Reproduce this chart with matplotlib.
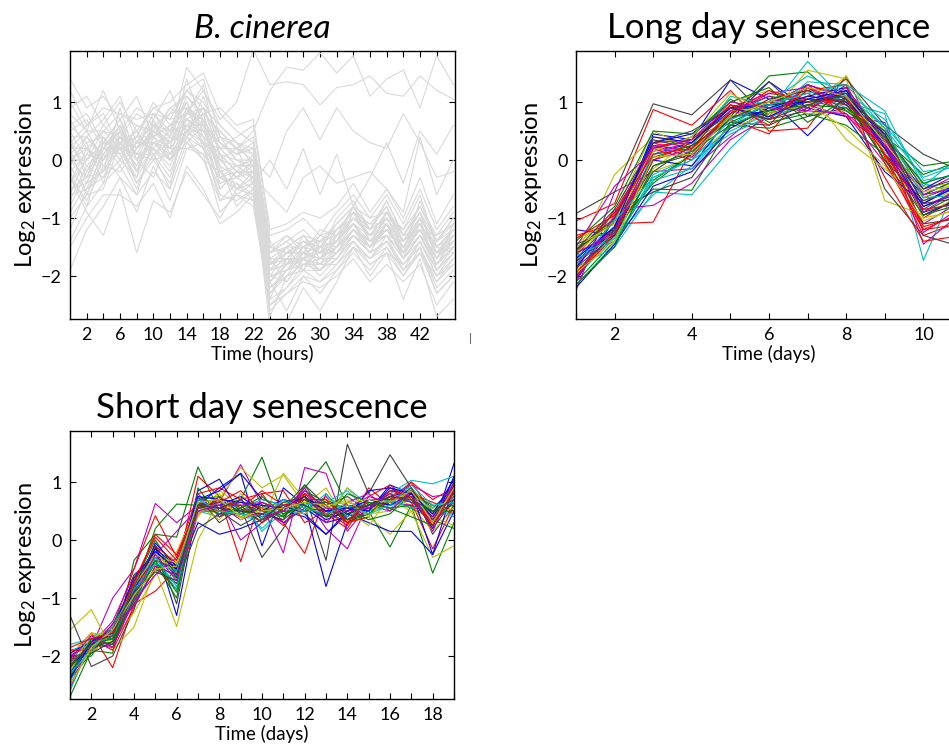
import matplotlib
matplotlib.use('Agg')
from matplotlib import pyplot as plt
from matplotlib.lines import Line2D

plt.rcParams['font.family'] = ['Lato', 'DejaVu Sans']
plt.rcParams['mathtext.fontset'] = 'custom'
plt.rcParams['mathtext.rm'] = 'Lato'
plt.rcParams['mathtext.it'] = 'Lato:italic'

# ---- data -------------------------------------------------------------
hours = [0, 2, 4, 6, 8, 10, 12, 14, 16, 18, 20, 22,
         24, 26, 28, 30, 32, 34, 36, 38, 40, 42, 44, 46]
hour_ticks = [2, 4, 6, 8, 10, 12, 14, 16, 18, 20, 22,
              24, 26, 28, 30, 32, 34, 36, 38, 40, 42, 44]
hour_labels = ['2', '', '6', '', '10', '', '14', '', '18', '', '22',
               '', '26', '', '30', '', '34', '', '38', '', '42', '']

cinerea = [
    [0.9, 1.1, 0.6, 1.0, 0.5, 0.9, 1.0, 1.3, 1.5, 0.8, 0.5, 0.3, -1.6, -1.4, -1.2, -1.5, -1.1, -0.8, -1.2, -0.7, -1.3, -0.9, -1.7, -1.2],
    [-0.5, -0.3, 0.2, 0.6, -0.2, 0.5, 0.3, 0.9, 0.7, -0.3, -0.4, -0.6, -2.2, -1.9, -1.7, -1.9, -1.6, -1.2, -1.5, -1.1, -1.7, -1.3, -1.9, -1.5],
    [0.2, -0.6, 0.0, 0.4, 0.1, 0.2, 0.5, 0.6, 0.3, 0.2, -0.1, 0.0, -1.8, -1.5, -1.9, -1.4, -1.5, -0.9, -1.4, -1.3, -1.4, -1.0, -1.5, -1.6],
    [-1.9, -1.2, -0.8, -0.3, -0.9, -0.1, -0.7, 0.2, 0.1, -0.9, -0.6, -0.8, -2.5, -2.2, -1.9, -2.1, -1.8, -1.4, -1.7, -1.3, -1.9, -1.6, -2.1, -1.8],
    [1.4, 0.9, 1.1, 0.7, 1.1, 0.4, 0.9, 1.1, 0.8, 0.5, 0.2, 0.4, -1.4, -1.8, -1.3, -1.7, -1.2, -0.9, -1.1, -0.8, -1.6, -0.7, -1.4, -1.0],
    [0.0, 0.3, -0.4, 0.5, 0.2, 0.7, 0.1, 0.5, 0.8, -0.1, -0.3, -0.1, -2.0, -1.6, -1.5, -1.8, -1.3, -1.1, -1.5, -0.9, -1.4, -1.2, -1.7, -1.1],
    [-0.8, -0.2, 0.4, 0.1, -0.5, 0.3, 0.0, 0.7, 0.4, 0.1, -0.5, -0.3, -2.7, -2.0, -1.6, -1.5, -1.4, -1.0, -1.3, -1.2, -1.6, -1.1, -1.8, -1.4],
    [0.5, 0.0, 0.3, -0.1, 0.3, 0.6, 0.5, 1.0, 0.2, 0.4, 0.0, -0.2, -1.7, -1.7, -1.4, -1.6, -1.0, -0.7, -1.2, -1.0, -1.2, -0.6, -1.5, -1.3],
    [-0.3, -0.7, -0.1, 0.3, 0.0, -0.3, 0.4, 0.3, 0.6, -0.5, -0.2, -0.4, -2.3, -1.9, -1.8, -1.7, -1.7, -1.3, -1.6, -1.4, -1.8, -1.4, -2.0, -1.7],
    [0.3, 0.6, 0.8, 0.2, 0.4, 1.0, 0.6, 0.4, 1.1, 0.3, 0.1, 0.2, -1.5, -1.3, -1.6, -1.2, -1.3, -0.8, -1.0, -0.9, -1.3, -1.2, -1.3, -0.9],
    [-1.2, -0.5, -0.3, 0.0, -0.3, 0.2, -0.2, 0.5, 0.5, -0.1, -0.8, -0.5, -2.1, -2.6, -2.0, -2.3, -1.9, -1.6, -1.9, -1.5, -2.0, -1.5, -2.3, -2.0],
    [0.7, 0.2, 0.5, 0.8, 0.6, 0.4, 0.8, 1.2, 0.9, 0.6, 0.3, 0.1, -1.9, -1.5, -1.3, -1.4, -1.2, -0.9, -1.2, -0.8, -1.4, -0.9, -1.6, -1.2],
    [0.1, -0.4, 0.3, 0.3, -0.1, 0.5, 0.3, 0.6, 0.5, 0.0, -0.1, -0.3, -1.9, -1.8, -1.5, -1.6, -1.5, -1.1, -1.4, -1.2, -1.5, -1.2, -1.7, -1.4],
    [-0.6, 0.1, 0.0, 0.6, 0.1, 0.1, -0.5, 0.9, 0.3, -0.4, -0.3, 0.0, -2.4, -1.7, -1.9, -1.5, -1.6, -1.2, -1.6, -1.1, -1.7, -1.0, -1.9, -1.6],
    [1.0, 0.5, 0.0, 0.4, 0.8, 0.6, 0.2, 1.4, 0.6, 0.2, 0.4, 0.6, -1.3, -1.2, -1.0, -1.3, -0.9, -0.6, -1.0, -0.6, -1.1, -0.5, -1.2, -0.8],
    [-0.2, -0.8, 0.1, -0.3, -0.6, 0.4, 0.2, 0.2, 0.3, -0.7, -0.4, -0.7, -2.0, -2.1, -1.7, -2.0, -1.7, -1.4, -1.8, -1.6, -1.8, -1.5, -2.2, -1.9],
    [0.4, 0.4, 0.7, 1.1, 0.3, 0.8, 0.7, 0.8, 1.2, 0.6, 0.3, -0.1, -1.6, -1.4, -1.7, -1.3, -1.4, -1.0, -1.3, -0.9, -1.2, -0.8, -1.3, -1.1],
    [-1.5, -1.0, -0.6, -0.6, -0.8, -0.4, -1.0, -0.1, -0.5, -1.1, -0.9, -0.6, -2.6, -2.3, -2.1, -2.2, -2.0, -1.7, -2.1, -1.8, -2.1, -1.8, -2.5, -2.1],
    [0.2, 0.2, -0.2, 0.9, 0.0, 0.3, 0.4, 1.0, 0.4, 0.1, -0.2, -0.2, -1.8, -1.6, -1.6, -1.7, -1.4, -0.8, -1.4, -1.0, -1.5, -1.1, -1.6, -1.4],
    [-0.4, 0.0, 0.5, 0.2, -0.3, 0.7, 0.0, 0.4, 0.0, -0.2, -0.6, -0.4, -2.1, -1.8, -1.6, -1.9, -1.5, -1.3, -1.5, -1.3, -1.7, -1.3, -1.8, -1.5],
    [0.6, 0.8, 0.3, 0.2, 0.5, 0.0, 0.6, 0.7, 0.9, 0.3, 0.1, 0.3, -1.5, -1.6, -1.4, -1.5, -1.2, -1.0, -1.1, -1.1, -1.4, -1.0, -1.4, -1.2],
    [-1.0, -0.6, -0.5, 0.3, -0.4, 0.0, -0.4, 0.4, 0.2, -0.6, -0.7, -0.5, -2.3, -2.0, -1.8, -1.8, -1.8, -1.5, -1.7, -1.5, -1.9, -1.6, -2.0, -1.8],
    [0.3, -0.2, 0.2, 0.5, 0.1, 0.6, 0.4, 1.6, 1.2, 0.7, 1.0, 1.9, 1.3, 1.35, 1.3, 0.95, 1.25, 1.3, 1.45, 1.15, 1.1, 1.45, 1.2, 1.05],
    [-0.1, 0.4, 0.0, 0.3, 0.4, 0.9, 0.7, 1.2, 1.4, 0.4, 0.2, 0.5, 1.2, 1.6, 1.55, 1.85, 1.5, 1.8, 1.1, 1.4, 1.55, 0.9, 1.8, 1.3],
    [0.0, -0.3, 0.4, 0.0, 0.3, 0.2, -0.1, 0.5, 0.9, 0.1, 0.0, 0.0, -0.3, 0.5, 0.9, 0.35, 0.9, 0.5, 0.3, 0.2, 0.8, 0.3, -0.3, -0.2],
    [-0.7, -0.1, -0.3, 0.4, -0.2, 0.4, 0.0, 0.3, 0.1, -0.3, -0.1, -0.3, -0.6, -0.9, -0.3, -0.1, -0.4, -0.3, -0.2, -0.5, -0.9, 0.4, -0.6, 0.0],
    [-0.3, -0.9, -1.3, -0.5, -1.6, -0.7, -0.9, -0.2, -0.6, -1.0, -0.5, -0.4, -2.9, -2.8, -2.2, -2.6, -2.1, -1.5, -2.0, -1.6, -2.4, -1.7, -2.7, -2.4],
    [0.8, 0.5, 1.2, 0.5, 0.9, 0.7, 1.2, 0.5, 0.8, 0.9, 0.6, 0.7, -1.2, -1.1, -0.9, -1.0, -0.8, -0.4, -0.9, -0.5, -1.0, -0.3, -1.1, -0.6],
    [0.0, 0.2, -0.1, -0.2, 0.2, 0.5, 0.3, 0.7, 0.6, -0.3, -0.2, 0.1, -1.7, -2.1, -1.7, -1.6, -1.6, -1.2, -1.4, -1.2, -1.6, -1.3, -1.8, -1.3],
    [-0.5, -0.4, 0.3, 0.7, 0.0, 0.3, 0.1, 0.8, 0.7, 0.2, -0.1, -0.1, -2.1, -1.7, -1.8, -1.7, -1.4, -1.1, -1.5, -1.2, -1.5, -1.1, -1.6, -1.4],
    [0.5, 0.7, 0.2, 0.6, 0.0, 0.6, 0.8, 0.9, 0.6, 0.3, 0.0, -0.1, -1.7, -1.5, -1.3, -1.6, -1.3, -1.0, -1.3, -1.0, -1.5, -1.0, -1.5, -1.2],
    [-0.2, 0.1, 0.6, 0.3, -0.1, 0.5, 0.2, 0.6, 0.4, -0.4, -0.3, -0.2, -2.0, -1.9, -1.5, -1.8, -1.5, -1.2, -1.4, -1.3, -1.6, -1.2, -1.8, -1.5],
    [0.3, -0.1, 0.2, 0.1, 0.4, 0.4, 0.6, 0.8, 0.9, 0.1, -0.2, -0.3, -1.9, -1.7, -1.7, -1.5, -1.4, -1.1, -1.5, -1.1, -1.7, -1.3, -1.6, -1.5],
    [-0.9, -0.4, -0.2, 0.2, -0.4, 0.1, -0.3, 0.6, 0.6, -0.2, -0.5, -0.6, -2.2, -2.0, -1.9, -1.9, -1.7, -1.3, -1.6, -1.4, -1.8, -1.5, -2.1, -1.7],
    [1.2, 0.6, 0.9, 0.8, 0.7, 0.8, 0.5, 1.2, 1.0, 0.4, 0.3, 0.2, -1.5, -1.6, -1.4, -1.4, -1.1, -0.8, -1.2, -0.7, -1.3, -0.8, -1.4, -1.0],
    [0.1, 0.4, 0.1, 0.4, 0.3, 0.3, 0.2, 0.6, 0.8, -0.2, -0.1, -0.1, -1.8, -1.6, -1.6, -1.7, -1.5, -1.2, -1.4, -1.1, -1.6, -1.2, -1.7, -1.3],
    [-0.6, -0.5, 0.1, 0.5, -0.2, 0.6, 0.3, 0.5, 0.3, 0.0, -0.3, -0.5, -2.4, -2.2, -1.8, -1.9, -1.6, -1.4, -1.7, -1.4, -1.9, -1.4, -2.0, -1.6],
    [0.6, 0.3, 0.4, 0.0, 0.6, 0.5, 0.9, 0.7, 0.5, 0.5, 0.2, 0.0, -1.6, -1.3, -1.5, -1.3, -1.2, -0.9, -1.3, -0.9, -1.3, -0.9, -1.4, -1.1],
    [-0.1, -0.6, 0.2, 0.2, 0.1, 0.0, 0.1, 0.4, 0.7, -0.3, -0.5, -0.2, -2.1, -1.8, -1.7, -1.8, -1.6, -1.3, -1.5, -1.3, -1.7, -1.4, -1.9, -1.6],
    [0.2, 0.5, 0.5, 0.4, 0.2, 0.8, 0.4, 1.1, 0.7, 0.2, 0.2, 0.1, -1.6, -1.5, -1.5, -1.4, -1.3, -1.0, -1.2, -1.0, -1.4, -1.1, -1.5, -1.2],
    [-1.4, -0.8, -0.4, -0.1, -0.6, -0.2, -0.5, 0.3, 0.0, -0.7, -0.6, -0.7, -2.5, -2.3, -2.0, -2.1, -1.9, -1.5, -1.8, -1.6, -2.0, -1.6, -2.3, -2.0],
    [0.0, 0.0, 0.3, 0.7, 0.2, 0.4, 0.6, 1.0, 0.5, 0.3, 0.1, 0.2, -1.8, -1.7, -1.4, -1.6, -1.4, -1.1, -1.3, -1.1, -1.5, -1.1, -1.6, -1.3],
    [0.4, -0.3, -0.2, 0.3, 0.5, 0.1, 0.3, 0.8, 1.3, 0.0, 0.2, -0.4, 0.0, -0.5, 0.2, -0.6, 0.1, -0.8, -0.3, 0.3, -0.4, 0.5, 0.1, 0.6],
    [-0.4, 0.2, 0.0, 0.2, -0.2, 0.2, 0.0, 0.5, 0.2, -0.5, -0.2, -0.2, -2.0, -1.9, -1.6, -1.7, -1.5, -1.2, -1.5, -1.2, -1.6, -1.3, -1.8, -1.5],
]

long_days = [1, 2, 3, 4, 5, 6, 7, 8, 9, 10, 11]
long_labels = ['', '2', '', '4', '', '6', '', '8', '', '10', '']
long_day = [
    [-1.75, -1.15, 0.45, 0.35, 1.38, 1.05, 0.42, 1.1, 0.1, -0.6, -0.3],
    [-2.1, -1.4, -0.35, 0.1, 0.75, 1.45, 1.52, 0.95, 0.3, -0.9, -0.55],
    [-1.05, -0.75, 0.87, 0.6, 1.2, 0.5, 0.55, 1.45, 0.05, -1.3, -1.05],
    [-1.85, -1.5, -0.55, -0.6, 0.2, 0.85, 1.7, 1.0, 0.8, -1.73, -0.2],
    [-2.25, -0.55, -0.2, -0.15, 0.4, 0.95, 1.25, 0.85, 0.45, -1.45, -0.9],
    [-1.65, -0.25, 0.4, 0.25, 0.95, 0.75, 1.55, 1.4, -0.7, -0.95, -0.6],
    [-0.92, -0.55, 0.97, 0.78, 1.38, 0.7, 0.85, 1.3, -0.5, -1.3, -1.5],
    [-1.2, -1.3, 0.1, 0.3, 0.85, 0.95, 1.3, 1.05, 0.2, -0.65, -0.4],
    [-1.55, -1.05, -0.5, -0.52, 0.6, 0.55, 0.75, 1.2, 0.4, -0.1, 0.0],
    [-1.3, -1.1, -1.07, 0.2, 0.7, 0.45, 1.25, 1.0, -0.3, -1.4, -1.3],
    [-2.0, -1.35, -0.6, -0.1, 0.6, 0.9, 1.0, 1.15, 0.55, -0.3, -0.05],
    [-1.9, -0.85, -0.78, -0.4, 0.35, 0.75, 0.95, 0.75, 0.65, -1.25, -0.8],
    [-1.45, -0.95, 0.5, 0.2, 1.0, 1.2, 0.9, 1.45, 0.35, -0.45, -0.4],
    [-1.6, -0.9, -0.55, -0.3, 0.65, 0.6, 0.9, 1.4, 0.6, 0.1, -0.2],
    [-2.05, -1.2, 0.25, 0.15, 0.7, 1.35, 0.9, 0.75, -0.2, -0.75, -0.35],
    [-1.7, -1.0, 0.2, 0.4, 1.05, 0.65, 0.8, 0.6, 0.1, -0.85, -0.45],
    [-1.75, -1.25, 0.3, 0.35, 0.9, 1.15, 1.05, 0.95, 0.4, -1.0, -0.6],
    [-2.15, -1.45, -0.25, 0.05, 0.5, 0.8, 1.35, 1.3, 0.85, -0.45, 0.1],
    [-1.5, -0.45, 0.15, 0.3, 0.9, 1.0, 1.15, 0.8, -0.05, -1.1, -0.7],
    [-1.35, -1.1, -0.2, 0.05, 0.55, 0.8, 1.2, 0.35, -0.15, -0.7, -0.5],
    [-1.95, -1.15, 0.2, 0.35, 0.8, 1.35, 0.75, 0.9, 0.2, -1.1, -1.0],
    [-1.6, -1.3, 0.0, -0.1, 0.75, 0.85, 1.1, 1.25, 0.3, -0.95, -0.65],
    [-2.0, -1.2, -0.4, 0.1, 0.8, 1.1, 1.0, 1.05, 0.5, -0.6, -0.3],
    [-1.65, -0.9, 0.2, 0.0, 0.85, 1.0, 0.9, 1.2, 0.1, -0.85, -0.75],
    [-1.8, -1.25, 0.1, 0.25, 1.1, 0.95, 1.2, 0.9, 0.4, -0.4, -0.6],
    [-2.1, -1.0, 0.3, 0.1, 0.85, 0.7, 1.3, 1.1, 0.2, -0.55, -0.2],
    [-1.9, -1.35, -0.15, 0.35, 0.7, 1.05, 0.8, 0.85, 0.55, -1.0, -0.85],
    [-1.55, -1.0, 0.35, 0.2, 0.95, 0.85, 1.05, 1.0, 0.0, -0.7, -0.45],
    [-1.85, -1.05, 0.3, 0.45, 0.9, 0.95, 1.0, 1.15, 0.25, -0.5, -0.15],
    [-1.45, -1.2, 0.05, 0.25, 0.65, 0.95, 1.05, 0.85, 0.35, -0.25, 0.0],
    [-2.0, -1.3, 0.25, 0.3, 0.95, 0.7, 1.2, 1.3, -0.05, -1.2, -0.9],
    [-1.7, -1.4, -0.3, 0.0, 0.45, 0.75, 0.95, 1.1, 0.6, -0.2, -0.1],
    [-1.8, -1.15, 0.0, 0.2, 0.8, 1.15, 1.25, 0.95, 0.3, -0.8, -0.5],
    [-1.6, -1.05, 0.2, 0.15, 0.85, 0.9, 1.1, 1.0, 0.15, -0.65, -0.35],
    [-1.75, -1.2, -0.1, 0.1, 0.75, 0.8, 1.0, 1.1, 0.45, -0.9, -0.7],
    [-2.2, -1.45, -0.45, -0.2, 0.55, 0.9, 1.1, 1.0, 0.45, -0.75, -0.4],
    [-1.4, -0.8, 0.5, 0.45, 1.0, 1.25, 0.65, 1.05, 0.0, -0.95, -0.75],
    [-1.95, -1.25, 0.0, 0.3, 0.95, 0.6, 1.3, 0.75, 0.25, -1.15, -0.95],
    [-1.65, -1.35, -0.35, -0.15, 0.6, 1.0, 1.45, 1.15, 0.7, -0.35, -0.25],
    [-2.05, -0.95, 0.25, 0.05, 0.85, 1.1, 0.85, 1.25, 0.35, -0.6, -0.45],
    [-1.5, -1.1, 0.15, 0.4, 1.15, 0.8, 0.95, 0.55, -0.1, -1.05, -0.8],
    [-1.85, -1.3, -0.2, 0.25, 0.7, 1.05, 1.2, 0.95, 0.5, -0.5, -0.3],
    [-1.7, -1.15, 0.4, 0.3, 0.9, 0.75, 1.05, 1.2, 0.2, -0.8, -0.55],
    [-2.15, -1.5, -0.1, 0.15, 0.6, 0.85, 0.95, 0.9, 0.4, -0.4, -0.2],
    [-1.35, -0.95, 0.1, 0.2, 0.8, 1.2, 1.0, 1.05, 0.1, -1.2, -1.1],
    [-1.8, -1.05, -0.3, 0.0, 0.7, 0.95, 1.15, 1.3, 0.55, -0.65, -0.6],
    [-1.6, -1.25, 0.2, 0.35, 1.0, 0.9, 0.85, 0.8, 0.25, -0.9, -0.45],
    [-1.95, -1.4, 0.05, 0.1, 0.75, 1.0, 1.25, 1.1, 0.3, -0.55, -0.4],
    [-1.55, -0.85, 0.3, 0.5, 0.9, 0.7, 0.95, 1.15, 0.45, -0.75, -0.65],
]

short_days = [1, 2, 3, 4, 5, 6, 7, 8, 9, 10, 11, 12, 13, 14, 15, 16, 17, 18, 19]
short_labels = ['', '2', '', '4', '', '6', '', '8', '', '10',
                '', '12', '', '14', '', '16', '', '18', '']
short_day = [
    [-2.3, -1.75, -1.8, -1.0, -0.1, -1.3, 0.6, 0.9, 1.15, -0.1, 0.9, 0.6, -0.8, 0.3, 0.5, 0.95, 0.8, 0.2, 1.32],
    [-2.7, -1.9, -1.95, -0.35, 0.1, 0.05, 1.26, 0.5, 0.7, 1.43, 0.4, 0.9, 1.35, 0.6, 0.5, -0.12, 0.6, -0.57, 0.3],
    [-2.0, -1.6, -2.2, -1.1, -0.88, -0.5, 1.1, 0.75, -0.37, 0.8, 0.3, -0.23, 0.8, 0.35, 0.5, 0.7, 1.0, 0.45, 0.85],
    [-1.8, -1.7, -1.5, -0.8, -0.4, -0.75, 0.5, 0.4, 0.6, 0.2, 0.55, 0.75, 0.4, 0.9, 0.6, 0.8, 1.03, 0.97, 1.1],
    [-2.2, -1.85, -1.0, -0.5, 0.63, 0.3, 0.6, 0.65, 1.3, 0.6, -0.22, 1.25, 1.15, 0.15, 0.6, 0.5, 0.85, 0.3, 0.7],
    [-1.55, -1.2, -1.9, -1.5, -0.5, -1.49, 0.0, 0.7, 1.25, 0.9, 1.12, 0.6, 0.9, 0.3, 0.4, 0.1, 0.5, -0.3, -0.1],
    [-1.3, -2.18, -2.0, -1.2, -0.1, -1.1, 0.75, 0.3, 0.55, -0.3, 0.2, 0.8, -0.35, 1.65, 0.8, 1.47, 0.9, 0.1, 0.6],
    [-2.0, -1.75, -1.7, -0.8, -0.3, -0.6, 0.3, 0.1, 0.2, 0.35, 0.5, 0.4, 0.1, 0.45, 0.3, 0.15, 0.15, -0.25, 0.5],
    [-2.4, -1.95, -1.6, -0.9, 0.2, 0.62, 0.6, 0.55, 0.4, 0.55, 0.45, 0.65, 0.5, 0.3, 0.45, 0.7, 0.55, 0.35, 0.2],
    [-2.5, -1.8, -1.5, -0.5, 0.42, -0.3, 0.8, 0.9, 0.7, 0.8, 0.85, 0.3, 0.5, 0.25, 0.9, 0.6, 1.0, 0.7, 0.9],
    [-2.1, -1.65, -1.7, -1.05, -0.5, -0.7, 0.55, 0.6, 0.4, 0.35, 0.6, 0.5, 0.45, 0.65, 0.55, 0.85, 0.9, 0.5, 0.8],
    [-2.35, -1.9, -1.55, -0.85, -0.3, -0.45, 0.7, 0.45, 0.5, 0.65, 0.5, 0.75, 0.2, -0.15, 0.65, 0.6, 0.7, 0.4, 1.0],
    [-2.0, -1.6, -1.75, -1.25, -0.6, -0.2, 0.6, 0.35, 0.8, 0.35, 1.15, 0.7, 0.55, 0.5, 0.25, 0.75, 0.6, 0.15, 0.55],
    [-2.15, -1.85, -1.8, -0.95, -0.2, -0.5, 0.5, 0.5, 0.25, 0.45, 0.35, 0.95, 0.6, 0.75, 0.5, 0.65, 0.85, 0.55, 0.9],
    [-2.25, -1.7, -1.65, -0.7, -0.15, -0.65, 0.85, 1.05, 0.45, 0.55, 0.3, 0.55, 0.3, 0.4, 0.85, 0.9, 0.7, 0.25, 1.1],
    [-2.05, -2.0, -1.45, -0.75, 0.0, -0.55, 0.7, 0.65, 0.6, 0.5, 0.4, 0.85, 0.65, 0.55, 0.35, 0.45, 0.8, 0.6, 0.45],
    [-2.4, -1.7, -1.9, -1.15, -0.45, -0.85, 0.45, 0.75, 0.55, 0.85, 0.6, 0.7, 0.45, 0.2, 0.75, 0.95, 0.65, -0.15, 0.6],
    [-1.9, -1.8, -1.65, -1.0, -0.35, -0.85, 0.65, 0.55, 0.7, 0.15, 0.5, 0.45, 0.7, 0.5, 0.65, 0.55, 0.75, 0.45, 0.7],
    [-2.55, -1.8, -1.4, -0.6, -0.25, 0.15, 0.55, 0.7, 0.0, 0.3, 0.7, 0.5, 0.75, 0.35, 0.55, 0.75, 0.95, 0.75, 0.8],
    [-2.1, -1.95, -1.6, -0.85, -0.35, -0.35, 0.4, 0.85, 0.6, 0.55, 0.45, 0.6, 0.35, 0.9, 0.5, 0.7, 0.5, 0.4, 0.25],
    [-2.3, -1.75, -1.7, -1.1, -0.5, -0.75, 0.2, 0.45, 0.45, 0.65, 0.5, 0.5, 0.55, 0.35, 0.6, 0.8, 0.7, 0.3, 0.65],
    [-1.95, -1.75, -1.55, -0.9, -0.05, -0.45, 0.7, 0.85, 1.15, 0.7, 0.6, 0.45, 0.1, 0.5, 0.6, 0.75, 0.85, -0.25, 0.95],
    [-2.2, -1.85, -1.75, -0.6, -0.4, -1.0, 0.9, 0.4, 0.55, 0.3, 0.55, 0.95, 0.4, 0.45, 0.65, 0.55, 0.4, 0.25, 1.0],
    [-2.05, -1.9, -1.45, -0.95, -0.1, -0.4, 0.6, 0.55, 0.65, 0.55, 0.25, 0.8, 0.6, 0.3, 0.4, 0.85, 0.8, 0.65, 0.5],
    [-2.45, -1.65, -1.6, -0.75, -0.3, -0.55, 0.75, 0.45, 0.5, 0.4, 0.65, 0.6, 0.65, 0.85, 0.5, 0.6, 0.7, 0.55, 0.75],
    [-2.0, -1.8, -1.85, -1.05, -0.6, -0.3, 0.65, 0.6, 0.35, 0.5, 0.3, 0.55, 0.5, 0.55, 0.75, 0.65, 0.6, 0.35, 0.85],
    [-2.25, -1.7, -1.5, -0.8, -0.2, -0.6, 0.55, 0.5, 0.45, 0.6, 0.55, 0.45, 0.7, 0.6, 0.45, 0.5, 0.9, 0.45, 0.55],
    [-2.15, -1.9, -1.65, -0.9, -0.35, -0.5, 0.6, 0.65, 0.5, 0.45, 0.6, 0.7, 0.5, 0.45, 0.55, 0.7, 0.75, 0.2, 0.7],
    [-2.2, -1.8, -1.6, -0.85, -0.15, -0.45, 0.55, 0.6, 0.75, 0.5, 0.7, 0.6, 0.35, 0.5, 0.7, 0.6, 0.8, 0.4, 0.9],
    [-2.35, -1.7, -1.8, -1.0, -0.4, -0.65, 0.7, 0.75, 0.45, 0.6, 0.4, 0.7, 0.6, 0.35, 0.45, 0.75, 0.65, 0.5, 0.6],
    [-1.9, -1.9, -1.55, -0.7, 0.05, -0.35, 0.6, 0.5, 0.6, 0.3, 0.55, 0.8, 0.45, 0.6, 0.55, 0.85, 0.75, 0.3, 0.95],
    [-2.6, -1.75, -1.7, -0.95, -0.3, -0.8, 0.5, 0.65, 0.55, 0.7, 0.6, 0.5, 0.8, 0.4, 0.6, 0.7, 0.55, 0.6, 0.4],
    [-2.1, -1.85, -1.45, -1.15, -0.45, -0.6, 0.8, 0.4, 0.7, 0.4, 0.5, 0.9, 0.3, 0.65, 0.8, 0.5, 0.85, 0.15, 1.0],
    [-2.25, -1.6, -1.65, -0.8, -0.25, -0.4, 0.45, 0.8, 0.35, 0.55, 0.65, 0.55, 0.55, 0.7, 0.4, 0.8, 0.7, 0.55, 0.7],
    [-2.0, -1.95, -1.75, -0.9, -0.55, -0.7, 0.65, 0.55, 0.5, 0.45, 0.35, 0.65, 0.65, 0.45, 0.6, 0.65, 0.9, 0.35, 0.8],
    [-2.4, -1.75, -1.55, -0.65, -0.2, -0.5, 0.75, 0.7, 0.65, 0.6, 0.55, 0.75, 0.5, 0.55, 0.5, 0.9, 0.8, 0.45, 1.05],
    [-2.15, -1.8, -1.7, -1.05, -0.35, -0.9, 0.6, 0.45, 0.55, 0.75, 0.45, 0.6, 0.4, 0.8, 0.65, 0.55, 0.6, 0.5, 0.5],
    [-1.85, -1.7, -1.6, -0.75, 0.1, -0.25, 0.55, 0.65, 0.85, 0.5, 0.6, 0.7, 0.7, 0.3, 0.7, 0.7, 0.75, 0.25, 0.85],
    [-2.3, -1.9, -1.5, -0.85, -0.4, -0.55, 0.7, 0.5, 0.45, 0.4, 0.7, 0.55, 0.45, 0.6, 0.45, 0.6, 0.95, 0.6, 0.65],
    [-2.05, -1.65, -1.85, -1.0, -0.25, -0.7, 0.5, 0.6, 0.6, 0.65, 0.5, 0.85, 0.55, 0.5, 0.55, 0.8, 0.65, 0.4, 0.75],
    [-2.5, -1.85, -1.55, -0.95, -0.5, -0.45, 0.65, 0.7, 0.4, 0.5, 0.55, 0.65, 0.6, 0.65, 0.7, 0.65, 0.85, 0.3, 0.9],
    [-2.2, -1.75, -1.65, -0.8, -0.1, -0.6, 0.6, 0.55, 0.7, 0.35, 0.65, 0.75, 0.4, 0.55, 0.6, 0.75, 0.7, 0.5, 0.7],
]

y_ticks = [-2, -1, 0, 1]
y_labels = ['\u22122', '\u22121', '0', '1']

# old MATLAB line order
matlab_colors = ['#0000ff', '#008000', '#ff0000', '#00bfbf',
                 '#bf00bf', '#bfbf00', '#404040']


def style_axis(ax, xlim, ticks, labels, xlabel):
    ax.set_xlim(*xlim)
    ax.set_ylim(-2.74, 1.88)
    ax.set_xticks(ticks)
    ax.set_xticklabels(labels)
    ax.set_yticks(y_ticks)
    ax.set_yticklabels(y_labels)
    ax.tick_params(direction='in', top=True, right=True, length=4,
                   width=0.8, labelsize=13, pad=6)
    ax.set_xlabel(xlabel, fontsize=13.5, labelpad=1)
    ax.set_ylabel('Log$_2$ expression', fontsize=17, labelpad=2)
    for s in ax.spines.values():
        s.set_linewidth(1.0)


fig = plt.figure(figsize=(9.49, 7.45), dpi=100)

ax1 = fig.add_axes([70 / 949, 426 / 745, 385 / 949, 268 / 745])
for row in cinerea:
    ax1.plot(hours, row, color='#d9d9d9', lw=0.8)
style_axis(ax1, (0, 46.2), hour_ticks, hour_labels, 'Time (hours)')
ax1.set_title('B. cinerea', fontsize=24, style='italic', pad=9)

ax2 = fig.add_axes([576 / 949, 426 / 745, 386 / 949, 268 / 745])
for i, row in enumerate(long_day):
    ax2.plot(long_days, row, color=matlab_colors[i % 7], lw=0.8)
style_axis(ax2, (1, 11), long_days, long_labels, 'Time (days)')
ax2.set_title('Long day senescence', fontsize=25, pad=9)

ax3 = fig.add_axes([70 / 949, 46 / 745, 384 / 949, 268 / 745])
for i, row in enumerate(short_day):
    ax3.plot(short_days, row, color=matlab_colors[i % 7], lw=0.8)
style_axis(ax3, (1, 19), short_days, short_labels, 'Time (days)')
ax3.set_title('Short day senescence', fontsize=25, pad=9)

# small stray tick left of the right panel
fig.add_artist(Line2D([470 / 949, 470 / 949], [402 / 745, 412 / 745],
                      color='#707070', lw=0.8))

fig.savefig('out.png', dpi=100)
